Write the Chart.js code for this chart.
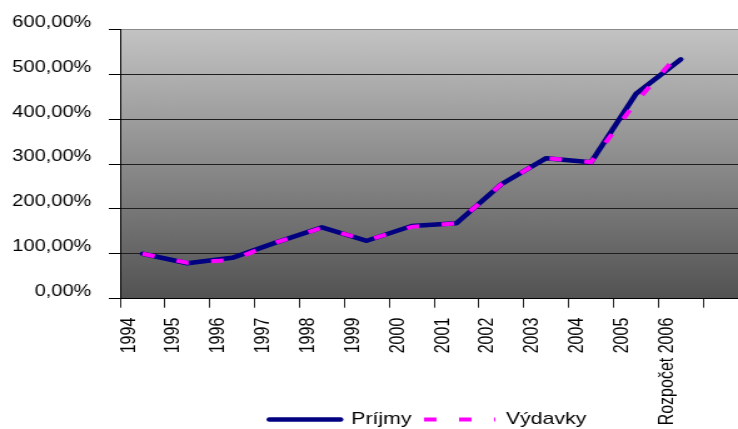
<!DOCTYPE html>
<html>
<head>
<meta charset="utf-8">
<script src="https://cdn.jsdelivr.net/npm/chart.js@4/dist/chart.umd.min.js"></script>
<style>
html, body { margin: 0; padding: 0; overflow: hidden; background: #fff; }
</style>
</head>
<body>
<canvas id="graf" width="598" height="429" style="width:748px;height:429px"></canvas>
<script>
// roky na osi x (posledna kategoria je prazdna, ako v originale)
const roky = ['1994', '1995', '1996', '1997', '1998', '1999', '2000', '2001',
    '2002', '2003', '2004', '2005', 'Rozpočet 2006', ''];

// hodnoty v % (1994 = 100 %)
const prijmy  = [100, 79, 91, 126, 159, 129, 162, 168, 255, 313, 304, 456, 533];
const vydavky = [100, 80, 86, 126, 158, 130, 160, 168, 255, 313, 304, 438, 550];

const osY = { min: 0, max: 600, krok: 100 };

/* --- pluginy ------------------------------------------------------------- */
const pozadie = {
    id: 'pozadie',
    beforeDraw(chart) {
        const { ctx, chartArea: a } = chart;
        const g = ctx.createLinearGradient(0, a.top, 0, a.bottom);
        g.addColorStop(0, '#c3c3c3');
        g.addColorStop(1, '#525252');
        ctx.save();
        ctx.fillStyle = g;
        ctx.fillRect(a.left, a.top, a.right - a.left, a.bottom - a.top);
        ctx.restore();
    }
};

/* legenda v originale nie je v strede platna, popisky osi x siahaju az po spodok */
const upravyRozlozenia = {
    id: 'upravyRozlozenia',
    afterLayout(chart) {
        const lg = chart.legend;
        if (lg) {
            lg.left += 43; lg.right += 43;
            lg.top += 9; lg.bottom += 9;
        }
        chart.scales.x.bottom = chart.height;
    }
};

function formatPercent(v) {
    return v.toFixed(2).replace('.', ',') + '%';
}

Chart.defaults.font.family = "'Liberation Sans', Arial, sans-serif";
Chart.defaults.color = '#000';

new Chart(document.getElementById('graf'), {
    type: 'line',
    data: {
        labels: roky,
        datasets: [
            {
                label: 'Príjmy',
                data: prijmy,
                borderColor: '#000080',
                backgroundColor: '#000080',
                borderWidth: 4.5,
                borderCapStyle: 'round',
                borderJoinStyle: 'round',
                pointRadius: 0,
                tension: 0,
                order: 2
            },
            {
                label: 'Výdavky',
                data: vydavky,
                borderColor: '#ff00ff',
                backgroundColor: '#ff00ff',
                borderWidth: 4,
                borderDash: [10, 18],
                borderCapStyle: 'butt',
                pointRadius: 0,
                tension: 0,
                order: 1
            }
        ]
    },
    options: {
        responsive: false,
        animation: false,
        layout: { padding: { top: 29.3, left: 0, right: 0, bottom: 0 } },
        plugins: {
            tooltip: { enabled: false },
            legend: {
                position: 'bottom',
                labels: {
                    usePointStyle: true,
                    pointStyle: 'line',
                    pointStyleWidth: 57,
                    padding: 10,
                    color: '#000',
                    font: { size: 17 },
                    sort: (a, b) => a.datasetIndex - b.datasetIndex,
                    generateLabels(chart) {
                        const items = Chart.defaults.plugins.legend.labels.generateLabels(chart);
                        items.forEach(it => {
                            const ds = chart.data.datasets[it.datasetIndex];
                            it.strokeStyle = ds.borderColor;
                            it.lineWidth = ds.borderWidth;
                            it.lineDash = ds.borderDash || [];
                            it.lineCap = ds.borderCapStyle;
                        });
                        return items;
                    }
                }
            }
        },
        scales: {
            x: {
                offset: true,
                grid: {
                    offset: true,
                    drawOnChartArea: false,
                    tickLength: 9,
                    color: '#222'
                },
                border: { color: '#000', width: 1 },
                ticks: {
                    autoSkip: false,
                    minRotation: 90,
                    maxRotation: 90,
                    padding: 10,
                    labelOffset: -10.8,
                    font: { size: 16 }
                },
                afterFit(s) {
                    s.height = 93.3;
                    s.paddingLeft = 0;
                    s.paddingRight = 0;
                }
            },
            y: {
                min: osY.min,
                max: osY.max,
                grid: {
                    tickLength: 9,
                    tickColor: '#000',
                    color: c => (c.tick && c.tick.value === osY.max) ? '#8a8a8a' : '#1e1e1e'
                },
                border: { color: '#000', width: 1 },
                ticks: {
                    stepSize: osY.krok,
                    padding: 14,
                    labelOffset: -7,
                    font: { size: 16 },
                    callback: v => formatPercent(v)
                },
                afterFit(s) {
                    s.width = 96;
                }
            }
        }
    },
    plugins: [pozadie, upravyRozlozenia]
});
</script>
</body>
</html>
